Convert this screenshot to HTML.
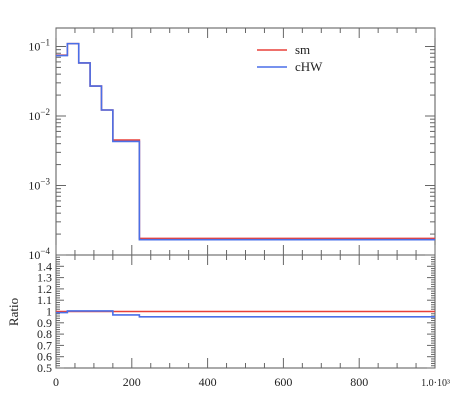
<!DOCTYPE html>
<html><head><meta charset="utf-8"><style>
body{margin:0;background:#fff}
svg{display:block;font-family:"Liberation Serif",serif}
</style></head><body>
<svg id="c" width="450" height="407"></svg>
<script>
const edges=[0,30,60,90,120,150,220,1000];
const smVals=[0.075,0.11,0.058,0.027,0.0122,0.0045,0.000173];
const chwVals=[0.074,0.11,0.058,0.027,0.0122,0.0043,0.000166];
const ratioSm=[1,1,1,1,1,1,1];
const ratioChw=[0.99,1.005,1.005,1.005,1.005,0.97,0.953];
const xTicks=[0,200,400,600,800];
const ratioTicks=[0.5,0.6,0.7,0.8,0.9,1,1.1,1.2,1.3,1.4];
const NS='http://www.w3.org/2000/svg';
const svg=document.getElementById('c');
const L=56,R=435,T=28,MB=255,RB=368;
const X=v=>L+(v-0)/(1000)*(R-L);
const dec=69.5;
const Y=v=>MB-(Math.log10(v)+4)*dec;
const YR=v=>RB-(v-0.5)/1.0*(RB-MB);
function el(t,a,p){const e=document.createElementNS(NS,t);for(const k in a)e.setAttribute(k,a[k]);(p||svg).appendChild(e);return e;}
// frames
const f1=el('rect',{x:L,y:T,width:R-L,height:MB-T,fill:'none',stroke:'#555','stroke-width':1});

const f2=el('rect',{x:L,y:MB,width:R-L,height:RB-MB,fill:'none',stroke:'#555','stroke-width':1});

const tk={stroke:'#666','stroke-width':1};
// x ticks
for(let v=0;v<=1000;v+=50){const maj=v%200===0;const len=maj?10:5;const x=X(v);
 for(const [y0,d] of [[T,1],[MB,-1],[MB,1],[RB,-1]]){el('line',Object.assign({x1:x,x2:x,y1:y0,y2:y0+d*len},tk));}}
// main log y ticks
for(let e=-4;e<=-1;e++){for(let m=1;m<10;m++){const v=m*Math.pow(10,e);const y=Y(v);if(y<T-0.5)continue;const len=m===1?10:5;
 el('line',Object.assign({x1:L,x2:L+len,y1:y,y2:y},tk));el('line',Object.assign({x1:R,x2:R-len,y1:y,y2:y},tk));}}
for(let e=-4;e<=-1;e++){const t=el('text',{x:L-6,y:Y(Math.pow(10,e))+4,'text-anchor':'end','font-size':12,fill:'#222'});
 
 t.innerHTML='10<tspan dy="-5" font-size="9">−'+(-e)+'</tspan>';}
// ratio ticks
for(let i=0;i<=50;i++){const v=0.5+i*0.02;const y=YR(v);const maj=Math.abs(v*10-Math.round(v*10))<1e-6;const len=maj?8:4;
 el('line',Object.assign({x1:L,x2:L+len,y1:y,y2:y},tk));el('line',Object.assign({x1:R,x2:R-len,y1:y,y2:y},tk));}
ratioTicks.forEach(v=>{const t=el('text',{x:L-4,y:YR(v)+4,'text-anchor':'end','font-size':12,fill:'#222'});
 t.textContent=String(v);});
xTicks.forEach(v=>{const t=el('text',{x:X(v),y:386,'text-anchor':'middle','font-size':12,fill:'#222'});
 t.textContent=String(v);});
const xe=el('text',{x:450,y:386,'text-anchor':'end','font-size':10,fill:'#222'});
xe.textContent='1.0·10³';
const rl=el('text',{x:18,y:312,'text-anchor':'middle','font-size':13,fill:'#222',transform:'rotate(-90 18 312)'});
rl.textContent='Ratio';
function step(vals,fy,col,name){let d='';for(let i=0;i<vals.length;i++){const y=fy(vals[i]);d+=(i===0?'M':'L')+X(edges[i])+','+y+'L'+X(edges[i+1])+','+y;}
 const p=el('path',{d:d,fill:'none',stroke:col,'stroke-width':1.6});}
step(smVals,Y,'#e8403a','sm-histogram');
step(chwVals,Y,'#4a6fe8','chw-histogram');
step(ratioSm,YR,'#e8403a','sm-ratio-line');
step(ratioChw,YR,'#4a6fe8','chw-ratio-line');
// legend
[['sm','#e8403a',50],['cHW','#4a6fe8',67]].forEach(([n,c,y])=>{
 const g=el('g',{});
 el('line',{x1:257,x2:287,y1:y,y2:y,stroke:c,'stroke-width':1.6},g);
 const t=el('text',{x:295,y:y+4,'font-size':13,fill:'#222'},g);t.textContent=n;});
</script>
</body></html>
